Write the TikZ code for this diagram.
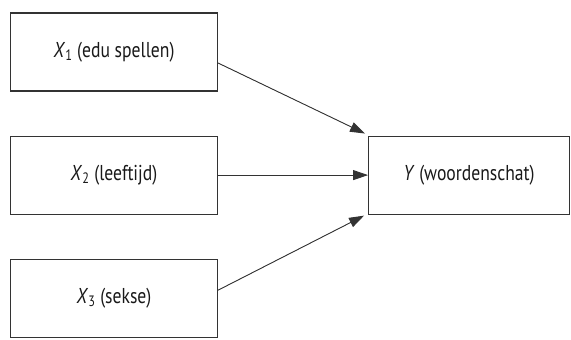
\documentclass[tikz,border=0pt]{standalone}
\usepackage{fontspec}
\setmainfont{PT Sans}[FakeStretch=0.82]
\usepackage{tikz}
\usetikzlibrary{arrows.meta,positioning}

\begin{document}
\begin{tikzpicture}[
        >={Triangle[length=15pt,width=10pt]},
        node distance=44pt and 150pt,
        every node/.style={font=\fontsize{21.5}{24}\selectfont, text=black!90},
        varbox/.style={draw=black!80, line width=1.1pt, minimum width=207pt, minimum height=78pt, inner sep=3pt},
        link/.style={->, draw=black!80, fill=black!70, line width=0.9pt}
    ]
        \useasboundingbox (0,0) rectangle (571pt,-340pt);

        \node[varbox] (x1) at (114pt,-52pt) {\textit{X}\textsubscript{1} (edu spellen)};
        \node[varbox, below=of x1] (x2) {\textit{X}\textsubscript{2} (leeftijd)};
        \node[varbox, below=of x2] (x3) {\textit{X}\textsubscript{3} (sekse)};
        \node[varbox, right=of x2, minimum width=201pt] (y) {\textit{Y} (woordenschat)};

        \draw[link] ([yshift=-11pt]x1.east) -- ([shift={(-3pt,2pt)}]y.north west);
        \draw[link] (x2) -- (y);
        \draw[link] ([yshift=8pt]x3.east) -- ([shift={(-4pt,-1pt)}]y.south west);
    \end{tikzpicture}
\end{document}
